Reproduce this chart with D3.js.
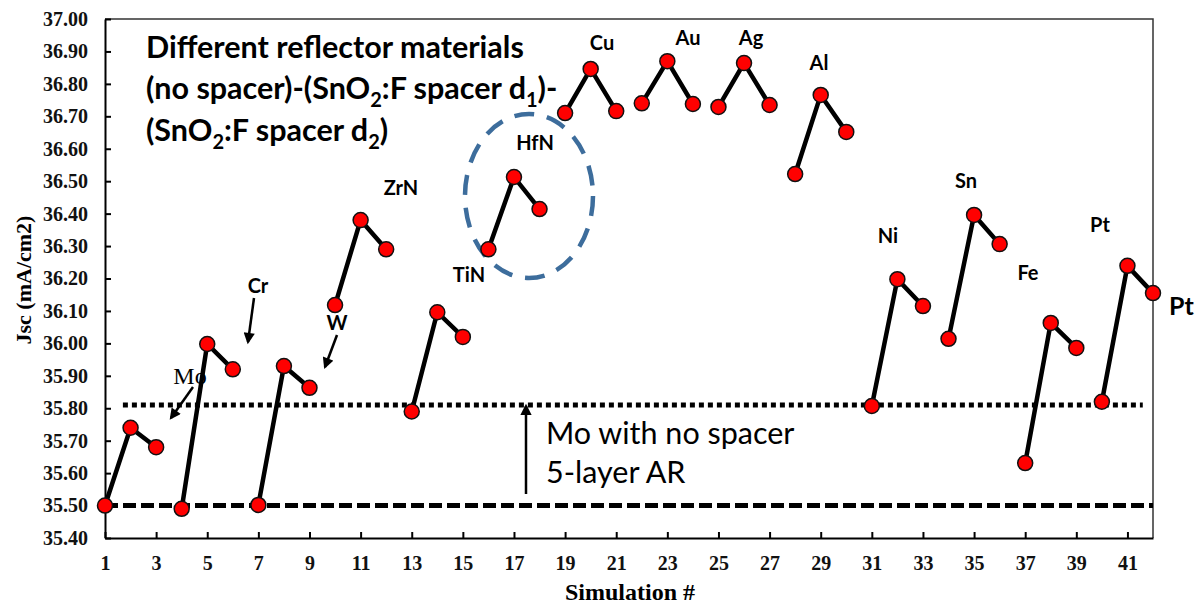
<!DOCTYPE html>
<html>
<head>
<meta charset="utf-8">
<script src="https://cdn.jsdelivr.net/npm/d3@7"></script>
<style>
  body { margin: 0; background: #fff; }
  .ax path, .ax line { stroke: #000; stroke-width: 2; }
  .ax text { font-family: "Liberation Serif", "Times New Roman", serif; font-weight: bold; font-size: 20px; fill: #111; }
  .lbl { font-family: Lato, "Open Sans", sans-serif; font-weight: bold; font-size: 20px; fill: #000; }
</style>
</head>
<body>
<svg id="chart" width="1198" height="608"></svg>
<script>
// Jsc for each simulation run, three runs per reflector material
var simulations = d3.range(1, 43);
var jsc = [35.50, 35.74, 35.68,  35.49, 35.998, 35.92,  35.502, 35.93, 35.863,
           36.118, 36.38, 36.29,  35.79, 36.096, 36.02,  36.29, 36.513, 36.414,
           36.71, 36.846, 36.716,  36.74, 36.87, 36.738,  36.729, 36.864, 36.735,
           36.522, 36.766, 36.652,  35.807, 36.198, 36.115,  36.014, 36.396, 36.306,
           35.631, 36.063, 35.986,  35.82, 36.239, 36.155];
var materials = ["Mo", "Cr", "W", "ZrN", "TiN", "HfN", "Cu", "Au", "Ag", "Al", "Ni", "Sn", "Fe", "Pt"];
var yTicks = [35.40, 35.50, 35.60, 35.70, 35.80, 35.90, 36.00, 36.10, 36.20, 36.30, 36.40, 36.50, 36.60, 36.70, 36.80, 36.90, 37.00];
var xTicks = [1, 3, 5, 7, 9, 11, 13, 15, 17, 19, 21, 23, 25, 27, 29, 31, 33, 35, 37, 39, 41];
var baselineNoSpacer = 35.50;   // dashed
var moReference = 35.81;        // dotted

var svg = d3.select("#chart");

var x = d3.scaleLinear().domain([1, 42]).range([105, 1153]);
var y = d3.scaleLinear().domain([35.4, 37.0]).range([538, 19]);

// frame on top and right
svg.append("path")
   .attr("d", "M" + x(1) + "," + y(37) + "H" + x(42) + "V" + y(35.4))
   .attr("fill", "none").attr("stroke", "#333").attr("stroke-width", 1.5);

svg.append("g").attr("class", "ax")
   .attr("transform", "translate(" + x(1) + ",0)")
   .call(d3.axisLeft(y).tickValues(yTicks).tickSize(-6).tickSizeOuter(0).tickPadding(17).tickFormat(d3.format(".2f")));

svg.append("g").attr("class", "ax")
   .attr("transform", "translate(0," + y(35.4) + ")")
   .call(d3.axisBottom(x).tickValues(xTicks).tickSize(-6).tickSizeOuter(0).tickPadding(18).tickFormat(d3.format("d")));

// axis titles
svg.append("text")
   .attr("transform", "translate(31,280) rotate(-90)")
   .attr("text-anchor", "middle")
   .style("font-family", "'Liberation Serif', serif").style("font-weight", "bold").style("font-size", "22px")
   .text("Jsc (mA/cm2)");
svg.append("text")
   .attr("x", 630).attr("y", 600)
   .attr("text-anchor", "middle")
   .style("font-family", "'Liberation Serif', serif").style("font-weight", "bold").style("font-size", "24px")
   .text("Simulation #");

// reference lines
svg.append("line")
   .attr("x1", x(1)).attr("x2", x(42))
   .attr("y1", y(baselineNoSpacer)).attr("y2", y(baselineNoSpacer))
   .attr("stroke", "#000").attr("stroke-width", 5).attr("stroke-dasharray", "13,5");
svg.append("line")
   .attr("x1", x(1.7)).attr("x2", x(41.6))
   .attr("y1", y(moReference)).attr("y2", y(moReference))
   .attr("stroke", "#000").attr("stroke-width", 5).attr("stroke-dasharray", "5,4");

// arrow markers
svg.append("defs").append("marker")
   .attr("id", "head").attr("viewBox", "0 0 10 10")
   .attr("refX", 8).attr("refY", 5)
   .attr("markerWidth", 5).attr("markerHeight", 4.5)
   .attr("orient", "auto")
 .append("path").attr("d", "M0,0L10,5L0,10z").attr("fill", "#000");

var arrows = [[193, 387, 171, 418], [254, 298, 248, 342], [337, 335, 325, 367], [526, 494, 526, 406]];
svg.selectAll(".arr").data(arrows).enter().append("line")
   .attr("class", "arr")
   .attr("x1", function(d) { return d[0]; }).attr("y1", function(d) { return d[1]; })
   .attr("x2", function(d) { return d[2]; }).attr("y2", function(d) { return d[3]; })
   .attr("stroke", "#000").attr("stroke-width", 2.5)
   .attr("marker-end", "url(#head)");

// HfN highlight
svg.append("ellipse")
   .attr("cx", 529).attr("cy", 196).attr("rx", 64).attr("ry", 82)
   .attr("fill", "none").attr("stroke", "#3d6d9c").attr("stroke-width", 4.5)
   .attr("stroke-dasharray", "20,13");

// one polyline per material (3 runs each)
var line = d3.line().x(function(d) { return x(d.sim); }).y(function(d) { return y(d.v); });
var points = simulations.map(function(s, i) { return {sim: s, v: jsc[i], group: Math.floor(i / 3)}; });
var groups = d3.groups(points, function(d) { return d.group; });

svg.selectAll(".seg").data(groups).enter().append("path")
   .attr("class", "seg")
   .attr("d", function(g) { return line(g[1]); })
   .attr("fill", "none").attr("stroke", "#000").attr("stroke-width", 4.5);

svg.selectAll(".dot").data(points).enter().append("circle")
   .attr("class", "dot")
   .attr("cx", function(d) { return x(d.sim); })
   .attr("cy", function(d) { return y(d.v); })
   .attr("r", 7.5)
   .attr("fill", "#f00").attr("stroke", "#111").attr("stroke-width", 1.5);

// material labels
var labelPos = [[190, 384], [258, 293], [337, 330], [401, 195], [469, 282], [535, 150], [602, 50],
                [688, 45], [751, 45], [819, 70], [888, 243], [966, 188], [1028, 280], [1100, 232]];
svg.selectAll(".lbl").data(materials).enter().append("text")
   .attr("class", "lbl")
   .attr("x", function(d, i) { return labelPos[i][0]; })
   .attr("y", function(d, i) { return labelPos[i][1]; })
   .attr("text-anchor", "middle")
   .style("font-family", function(d, i) { return i == 0 ? "'Liberation Serif', serif" : null; })
   .style("font-weight", function(d, i) { return i == 0 ? "normal" : null; })
   .style("font-size", function(d, i) { return i == 0 ? "24px" : null; })
   .text(function(d) { return d; });

svg.append("text")
   .attr("x", 1169).attr("y", 315)
   .style("font-family", "Lato, sans-serif").style("font-weight", "bold").style("font-size", "25px")
   .text("Pt");

// title block
var title = svg.append("text")
   .style("font-family", "Lato, sans-serif").style("font-weight", "bold").style("font-size", "30.5px");
title.append("tspan").attr("x", 146).attr("y", 58).text("Different reflector materials");
var l2 = title.append("tspan").attr("x", 146).attr("y", 99);
l2.append("tspan").text("(no spacer)-(SnO");
l2.append("tspan").attr("dy", 8).style("font-size", "20px").text("2");
l2.append("tspan").attr("dy", -8).text(":F spacer d");
l2.append("tspan").attr("dy", 8).style("font-size", "20px").text("1");
l2.append("tspan").attr("dy", -8).text(")-");
var l3 = title.append("tspan").attr("x", 146).attr("y", 141);
l3.append("tspan").text("(SnO");
l3.append("tspan").attr("dy", 8).style("font-size", "20px").text("2");
l3.append("tspan").attr("dy", -8).text(":F spacer d");
l3.append("tspan").attr("dy", 8).style("font-size", "20px").text("2");
l3.append("tspan").attr("dy", -8).text(")");

// reference annotation
var note = svg.append("text")
   .style("font-family", "Lato, sans-serif").style("font-size", "30.5px");
note.append("tspan").attr("x", 546).attr("y", 444).text("Mo with no spacer");
note.append("tspan").attr("x", 546).attr("y", 483).text("5-layer AR");
</script>
</body>
</html>
